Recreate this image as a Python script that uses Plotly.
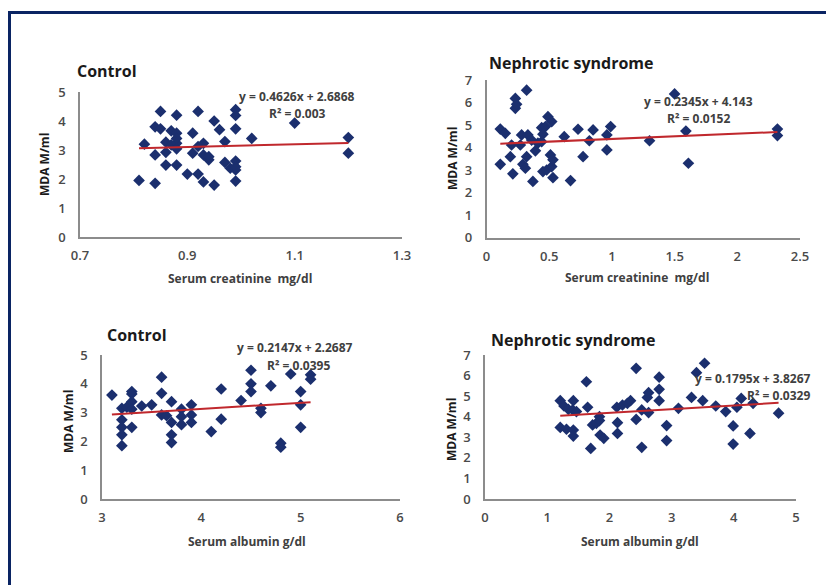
import plotly.graph_objects as go

# ---------------- data ----------------
# Panel 1: Control, serum creatinine vs MDA
ctrl_creat = [0.81, 0.82, 0.84, 0.84, 0.84, 0.85, 0.85, 0.86, 0.86, 0.86, 0.87, 0.87,
              0.88, 0.88, 0.88, 0.88, 0.88, 0.88, 0.90, 0.91, 0.91, 0.92, 0.92, 0.92,
              0.93, 0.93, 0.93, 0.94, 0.94, 0.95, 0.95, 0.96, 0.97, 0.97, 0.98, 0.99,
              0.99, 0.99, 0.99, 0.99, 0.99, 0.99, 1.02, 1.10, 1.20, 1.20]
ctrl_creat_mda = [1.95, 3.2, 3.8, 2.83, 1.85, 4.33, 3.73, 3.27, 2.92, 2.48, 3.66, 3.18,
                  4.2, 3.58, 3.23, 3.04, 2.48, 3.4, 2.17, 3.58, 2.89, 4.33, 2.17, 3.12,
                  3.23, 1.9, 2.83, 2.66, 2.77, 4.0, 1.79, 3.7, 3.29, 2.57, 2.37, 2.31,
                  4.39, 4.19, 3.73, 2.62, 2.42, 1.93, 3.4, 3.93, 3.43, 2.89]

# Panel 2: Nephrotic syndrome, serum creatinine vs MDA
ns_creat = [0.11, 0.11, 0.15, 0.19, 0.20, 0.21, 0.23, 0.23, 0.24, 0.28, 0.27, 0.29,
            0.31, 0.32, 0.33, 0.32, 0.36, 0.37, 0.39, 0.41, 0.44, 0.44, 0.45, 0.45,
            0.47, 0.48, 0.49, 0.51, 0.52, 0.52, 0.53, 0.53, 0.62, 0.67, 0.73, 0.77,
            0.82, 0.85, 0.96, 0.96, 0.99, 1.30, 1.50, 1.59, 1.61, 2.32, 2.32]
ns_creat_mda = [3.25, 4.82, 4.63, 3.59, 4.11, 2.83, 5.74, 6.18, 5.92, 4.56, 4.11, 3.25,
                3.08, 6.55, 4.56, 3.59, 4.33, 2.49, 3.85, 4.19, 4.26, 4.88, 4.59, 2.93,
                4.93, 3.0, 5.37, 3.67, 5.15, 3.15, 3.45, 2.66, 4.48, 2.53, 4.81, 3.59,
                4.3, 4.78, 3.89, 4.56, 4.93, 4.3, 6.38, 4.73, 3.3, 4.82, 4.53]

# Panel 3: Control, serum albumin vs MDA
ctrl_alb = [3.1, 3.2, 3.2, 3.2, 3.2, 3.2, 3.25, 3.3, 3.3, 3.3, 3.3, 3.3,
            3.4, 3.5, 3.6, 3.6, 3.6, 3.65, 3.7, 3.7, 3.7, 3.7, 3.8, 3.8,
            3.8, 3.9, 3.9, 3.9, 4.1, 4.2, 4.2, 4.4, 4.5, 4.5, 4.5, 4.6,
            4.6, 4.7, 4.8, 4.8, 4.9, 5.0, 5.0, 5.0, 5.1, 5.1]
ctrl_alb_mda = [3.61, 3.15, 2.75, 2.49, 2.23, 1.85, 3.19, 3.73, 3.65, 3.38, 3.12, 2.49,
                3.23, 3.27, 4.23, 3.67, 2.92, 2.89, 3.38, 2.66, 2.23, 1.96, 3.12, 2.86,
                2.58, 3.27, 2.92, 2.66, 2.34, 3.82, 2.77, 3.42, 4.47, 4.0, 3.73, 3.15,
                3.0, 3.93, 1.94, 1.8, 4.34, 3.73, 3.27, 2.49, 4.31, 4.16]

# Panel 4: Nephrotic syndrome, serum albumin vs MDA
ns_alb = [1.21, 1.21, 1.27, 1.31, 1.34, 1.41, 1.42, 1.42, 1.42, 1.47, 1.63, 1.65,
          1.70, 1.73, 1.79, 1.84, 1.84, 1.85, 1.91, 2.12, 2.13, 2.13, 2.21, 2.29,
          2.34, 2.43, 2.43, 2.52, 2.52, 2.61, 2.63, 2.63, 2.80, 2.80, 2.80, 2.92,
          2.92, 3.11, 3.32, 3.40, 3.50, 3.53, 3.71, 3.87, 3.99, 3.99, 4.05, 4.12,
          4.26, 4.31, 4.72]
ns_alb_mda = [4.78, 3.48, 4.52, 3.39, 4.36, 4.33, 4.78, 3.35, 3.06, 4.25, 5.7, 4.46,
              2.46, 3.6, 3.68, 4.0, 3.81, 3.11, 2.95, 4.46, 3.71, 3.19, 4.57, 4.65,
              4.78, 6.35, 3.87, 4.33, 2.51, 4.94, 5.17, 4.2, 5.92, 5.33, 4.78, 3.57,
              2.84, 4.41, 4.94, 6.14, 4.78, 6.6, 4.52, 4.25, 3.55, 2.67, 4.46, 4.89,
              3.19, 4.65, 4.17]

# trendline coefficients (slope, intercept) and labels
fits = [(0.4626, 2.6868), (0.2345, 4.143), (0.2147, 2.2687), (0.1795, 3.8267)]
eq_text = ["y = 0.4626x + 2.6868", "y = 0.2345x + 4.143",
           "y = 0.2147x + 2.2687", "y = 0.1795x + 3.8267"]
r2_text = ["R² = 0.003", "R² = 0.0152", "R² = 0.0395", "R² = 0.0329"]
titles = ["Control", "Nephrotic syndrome", "Control", "Nephrotic syndrome"]
x_titles = ["Serum creatinine  mg/dl", "Serum creatinine  mg/dl",
            "Serum albumin g/dl", "Serum albumin g/dl"]
y_title = "MDA M/ml"
x_ranges = [(0.7, 1.3), (0, 2.5), (3, 6), (0, 5)]
x_dticks = [0.2, 0.5, 1, 1]
y_ranges = [(0, 5), (0, 7), (0, 5), (0, 7)]

# ---------------- layout helpers ----------------
# page body has an 8px margin: the figure starts at (8, 8) in the window
OFF = 8
W, H = 834 - OFF, 585 - OFF
def px(x):
    return (x - OFF) / W
def py(y):
    return 1 - (y - OFF) / H

# plot-area pixel boxes in window pixels: (x_left, x_right, y_bottom, y_top)
boxes = [(80, 402, 237, 92), (486.5, 800, 237.5, 80),
         (102, 400, 499, 355), (485, 796, 499, 355)]

MARK = "#1B2F6E"
LINE = "#C0282D"
AX = "#8C8C8C"
FONT = "Open Sans"
TICKC = "#4a4a4a"

datasets = [(ctrl_creat, ctrl_creat_mda), (ns_creat, ns_creat_mda),
            (ctrl_alb, ctrl_alb_mda), (ns_alb, ns_alb_mda)]

fig = go.Figure()
layout = dict(width=W, height=H,
              margin=dict(l=0, r=0, t=0, b=0, pad=0, autoexpand=False),
              paper_bgcolor="white", plot_bgcolor="white", showlegend=False,
              font=dict(family=FONT, color="#404040"))

for i, ((xs, ys), (m, b)) in enumerate(zip(datasets, fits)):
    n = "" if i == 0 else str(i + 1)
    xa, ya = "x" + n, "y" + n
    fig.add_trace(go.Scatter(x=xs, y=ys, mode="markers", xaxis=xa, yaxis=ya,
                             marker=dict(symbol="diamond", size=9, color=MARK,
                                         line=dict(width=0))))
    x0, x1 = min(xs), max(xs)
    fig.add_trace(go.Scatter(x=[x0, x1], y=[m * x0 + b, m * x1 + b], mode="lines",
                             xaxis=xa, yaxis=ya, line=dict(color=LINE, width=2)))
    xl, xr, yb, yt = boxes[i]
    layout["xaxis" + n] = dict(domain=[px(xl), px(xr)], range=list(x_ranges[i]),
                               dtick=x_dticks[i], tick0=x_ranges[i][0],
                               showgrid=False, zeroline=False, showline=True,
                               linecolor=AX, linewidth=1.5, ticks="", automargin=False,
                               ticklabelstandoff=6,
                               tickfont=dict(size=13, color=TICKC, weight=600),
                               anchor=ya)
    layout["yaxis" + n] = dict(domain=[py(yb), py(yt)], range=list(y_ranges[i]),
                               dtick=1, showgrid=False, zeroline=False, showline=True,
                               linecolor=AX, linewidth=1.5, ticks="", automargin=False,
                               ticklabelstandoff=10,
                               tickfont=dict(size=13, color=TICKC, weight=600),
                               anchor=xa)

fig.update_layout(**layout)

# text positions in window pixels
title_pos = [(75, 71), (487, 63), (105, 335), (489, 340)]
xt_pos = [(240, 278), (637, 277), (247, 541), (640, 541)]
yt_pos = [(45, 165), (452, 158), (68, 421), (451, 430)]
eq_pos = [(297, 96), (698, 102), (295, 347), (693, 378)]
r2_pos = [(297, 113), (698, 119), (298, 365), (778, 395)]

ann = []
for i in range(4):
    ann.append(dict(x=px(title_pos[i][0]), y=py(title_pos[i][1]), xref="paper", yref="paper",
                    text="<b>%s</b>" % titles[i], showarrow=False, xanchor="left",
                    yanchor="middle", font=dict(size=16, color="#1a1a1a")))
    ann.append(dict(x=px(xt_pos[i][0]), y=py(xt_pos[i][1]), xref="paper", yref="paper",
                    text="<b>%s</b>" % x_titles[i], showarrow=False, xanchor="center",
                    yanchor="middle", font=dict(size=12, color="#404040")))
    ann.append(dict(x=px(yt_pos[i][0]), y=py(yt_pos[i][1]), xref="paper", yref="paper",
                    text="<b>%s</b>" % y_title, showarrow=False, textangle=-90,
                    xanchor="center", yanchor="middle", font=dict(size=12, color="#1a1a1a")))
    ann.append(dict(x=px(eq_pos[i][0]), y=py(eq_pos[i][1]), xref="paper", yref="paper",
                    text="<b>%s</b>" % eq_text[i], showarrow=False,
                    xanchor="left" if i == 3 else "center",
                    yanchor="middle", font=dict(size=12, color="#404040")))
    ann.append(dict(x=px(r2_pos[i][0]), y=py(r2_pos[i][1]), xref="paper", yref="paper",
                    text="<b>%s</b>" % r2_text[i], showarrow=False, xanchor="center",
                    yanchor="middle", font=dict(size=12, color="#404040")))
fig.update_layout(annotations=ann)

# navy frame (left and top edges visible)
fig.add_shape(type="line", xref="paper", yref="paper", x0=px(9), x1=px(9),
              y0=py(11), y1=0, line=dict(color="#0A2463", width=4))
fig.add_shape(type="line", xref="paper", yref="paper", x0=px(7), x1=1,
              y0=py(12.5), y1=py(12.5), line=dict(color="#0A2463", width=3))

fig.write_html("out.html")
